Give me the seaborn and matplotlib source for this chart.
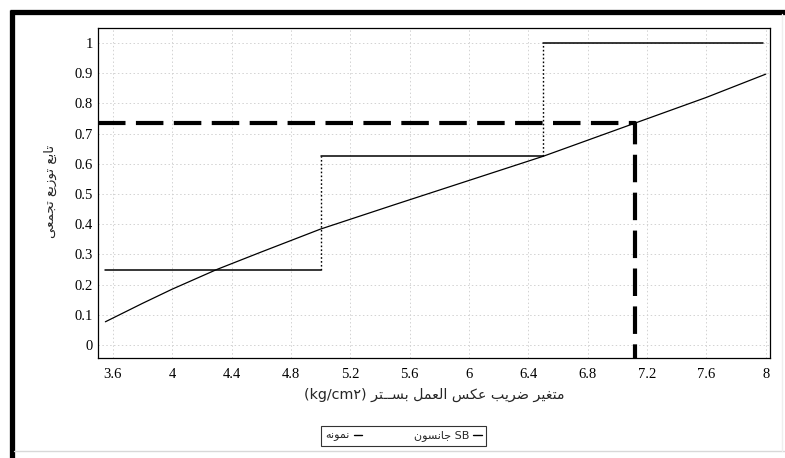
import matplotlib
matplotlib.use("Agg")
import matplotlib.pyplot as plt
import matplotlib.lines as mlines
from matplotlib.ticker import MultipleLocator, FixedLocator
import pandas as pd
import seaborn as sns

# ---- data -------------------------------------------------------------
# empirical CDF of the sample (horizontal steps)
step_start = [3.55, 5.0, 6.5]
step_end = [5.0, 6.5, 7.98]
step_cdf = [0.25, 0.625, 1.0]

# fitted Johnson SB cumulative distribution
fit_x = [3.55, 3.8, 4.0, 4.3, 4.6, 5.0, 5.5, 6.0, 6.5, 7.12, 7.6, 8.0]
fit_cdf = [0.077, 0.138, 0.185, 0.25, 0.308, 0.384, 0.465, 0.545, 0.625, 0.735, 0.82, 0.897]

# read-off point on the fitted curve
target_x = 7.12
target_p = 0.735

x_ticks = [3.6, 4.0, 4.4, 4.8, 5.2, 5.6, 6.0, 6.4, 6.8, 7.2, 7.6, 8.0]
x_tick_labels = ["3.6", "4", "4.4", "4.8", "5.2", "5.6", "6", "6.4", "6.8", "7.2", "7.6", "8"]
y_ticks = [0.0, 0.1, 0.2, 0.3, 0.4, 0.5, 0.6, 0.7, 0.8, 0.9, 1.0]
y_tick_labels = ["0", "0.1", "0.2", "0.3", "0.4", "0.5", "0.6", "0.7", "0.8", "0.9", "1"]

x_title = "متغیر ضریب عکس العمل بســتر"
x_unit = "(kg/cm۲)"
y_title = "تابع توزیع تجمعی"
sample_name = "نمونه"
fit_name = "جانسون"


# ---- minimal Persian shaping (matplotlib has no complex text layout) ----
FORMS = {
    "ا": ("\uFE8D", "\uFE8E", None, None),
    "ب": ("\uFE8F", "\uFE90", "\uFE91", "\uFE92"),
    "ت": ("\uFE95", "\uFE96", "\uFE97", "\uFE98"),
    "ج": ("\uFE9D", "\uFE9E", "\uFE9F", "\uFEA0"),
    "ر": ("\uFEAD", "\uFEAE", None, None),
    "ز": ("\uFEAF", "\uFEB0", None, None),
    "س": ("\uFEB1", "\uFEB2", "\uFEB3", "\uFEB4"),
    "ض": ("\uFEBD", "\uFEBE", "\uFEBF", "\uFEC0"),
    "ع": ("\uFEC9", "\uFECA", "\uFECB", "\uFECC"),
    "غ": ("\uFECD", "\uFECE", "\uFECF", "\uFED0"),
    "ک": ("\uFB8E", "\uFB8F", "\uFB90", "\uFB91"),
    "ل": ("\uFEDD", "\uFEDE", "\uFEDF", "\uFEE0"),
    "م": ("\uFEE1", "\uFEE2", "\uFEE3", "\uFEE4"),
    "ن": ("\uFEE5", "\uFEE6", "\uFEE7", "\uFEE8"),
    "ه": ("\uFEE9", "\uFEEA", "\uFEEB", "\uFEEC"),
    "و": ("\uFEED", "\uFEEE", None, None),
    "ی": ("\uFBFC", "\uFBFD", "\uFBFE", "\uFBFF"),
}
TATWEEL = "ـ"


def joins_next(ch):
    return ch == TATWEEL or (ch in FORMS and FORMS[ch][2] is not None)


def is_letter(ch):
    return ch == TATWEEL or ch in FORMS


def shape_rtl(text):
    out = []
    i = 0
    n = len(text)
    while i < n:
        ch = text[i]
        if ch not in FORMS:
            out.append(ch)
            i += 1
            continue
        prev = text[i - 1] if i > 0 else ""
        joined_before = prev != "" and joins_next(prev)
        if ch == "ل" and i + 1 < n and text[i + 1] == "ا":
            out.append("\uFEFC" if joined_before else "\uFEFB")
            i += 2
            continue
        nxt = text[i + 1] if i + 1 < n else ""
        joined_after = joins_next(ch) and nxt != "" and is_letter(nxt)
        iso, fin, ini, med = FORMS[ch]
        if joined_before and joined_after:
            out.append(med)
        elif joined_before:
            out.append(fin)
        elif joined_after:
            out.append(ini)
        else:
            out.append(iso)
        i += 1
    return "".join(reversed(out))


# ---- figure -------------------------------------------------------------
sns.set_style("white")
plt.rcParams["font.family"] = ["Liberation Serif", "DejaVu Sans"]
AR = ["DejaVu Sans"]

fig = plt.figure(figsize=(7.85, 4.58), dpi=100)
ax = fig.add_axes([0.1248, 0.2183, 0.8562, 0.7206])

xlim = (3.5, 8.03)
ylim = (-0.043, 1.05)
ax.set_xlim(*xlim)
ax.set_ylim(*ylim)

# dotted grid at major ticks
for xv in x_ticks:
    ax.axvline(xv, color="#d2d2d2", lw=0.7, ls=(0, (1.5, 2.5)), zorder=0)
for yv in y_ticks:
    ax.axhline(yv, color="#d2d2d2", lw=0.7, ls=(0, (1.5, 2.5)), zorder=0)

# empirical CDF: solid steps, dotted risers
steps = pd.DataFrame({
    "x": step_start + step_end,
    "cdf": step_cdf + step_cdf,
    "seg": list(range(len(step_cdf))) * 2,
})
sns.lineplot(data=steps, x="x", y="cdf", units="seg", estimator=None,
             color="black", lw=1.1, ax=ax, legend=False, zorder=3)
ax.vlines(step_start[1:], step_cdf[:-1], step_cdf[1:], colors="black",
          lw=1.0, linestyles=(0, (1.2, 1.6)), zorder=3)

# fitted Johnson SB CDF
fit = pd.DataFrame({"x": fit_x, "cdf": fit_cdf})
sns.lineplot(data=fit, x="x", y="cdf", color="black", lw=0.9, ax=ax,
             legend=False, zorder=3, sort=False)

# read-off guide
ax.plot([xlim[0], target_x, target_x], [target_p, target_p, ylim[0]],
        color="black", lw=3.0, dashes=(6.6, 2.5), zorder=4,
        solid_capstyle="butt", dash_capstyle="butt")

# axes frame and ticks
for side in ["left", "right", "top", "bottom"]:
    ax.spines[side].set_visible(True)
    ax.spines[side].set_color("black")
    ax.spines[side].set_linewidth(0.9)
ax.xaxis.set_major_locator(FixedLocator(x_ticks))
ax.set_xticklabels(x_tick_labels)
ax.yaxis.set_major_locator(FixedLocator(y_ticks))
ax.set_yticklabels(y_tick_labels)
ax.xaxis.set_minor_locator(MultipleLocator(0.1))
ax.yaxis.set_minor_locator(MultipleLocator(0.025))
ax.tick_params(axis="both", which="major", direction="out", length=3,
               width=0.8, labelsize=10.5, colors="black")
ax.tick_params(axis="both", which="minor", direction="out", length=1.8,
               width=0.6)
ax.tick_params(axis="x", which="major", pad=4)
ax.tick_params(axis="y", which="major", pad=0.5)
ax.set_xlabel("")
ax.set_ylabel("")

# axis titles
fig.text(434 / 785, 1 - 395 / 458, x_unit + " " + shape_rtl(x_title),
         family=AR, fontsize=10.3, ha="center", va="center")
fig.text(50 / 785, 1 - 191 / 458, shape_rtl(y_title), family=AR,
         fontsize=9.6, rotation=90, ha="center", va="center")

# legend
h_sample = mlines.Line2D([], [], color="black", lw=1.0)
h_fit = mlines.Line2D([], [], color="black", lw=1.0)
leg = fig.legend([h_sample, h_fit],
                 [shape_rtl(sample_name), shape_rtl(fit_name) + " SB"],
                 loc="center", bbox_to_anchor=(403.5 / 785, 1 - 436 / 458),
                 ncol=2, markerfirst=False, frameon=True, fancybox=False,
                 handlelength=0.8, handletextpad=0.35, columnspacing=4.6,
                 borderpad=0.4, prop={"family": AR, "size": 8})
leg.get_frame().set_edgecolor("black")
leg.get_frame().set_linewidth(0.8)

# outer figure border
fig.add_artist(mlines.Line2D([11.5 / 785, 11.5 / 785], [0, 1 - 9.5 / 458],
                             transform=fig.transFigure, color="black", lw=3.8,
                             solid_capstyle="butt"))
fig.add_artist(mlines.Line2D([9.5 / 785, 1], [1 - 11.5 / 458, 1 - 11.5 / 458],
                             transform=fig.transFigure, color="black", lw=3.8,
                             solid_capstyle="butt"))
fig.add_artist(mlines.Line2D([14 / 785, 1], [1 - 451 / 458, 1 - 451 / 458],
                             transform=fig.transFigure, color="#d8d8d8", lw=1.0))
fig.add_artist(mlines.Line2D([782 / 785, 782 / 785], [1 - 451 / 458, 1 - 14 / 458],
                             transform=fig.transFigure, color="#eeeeee", lw=1.0))

fig.savefig("out.png", dpi=100)
